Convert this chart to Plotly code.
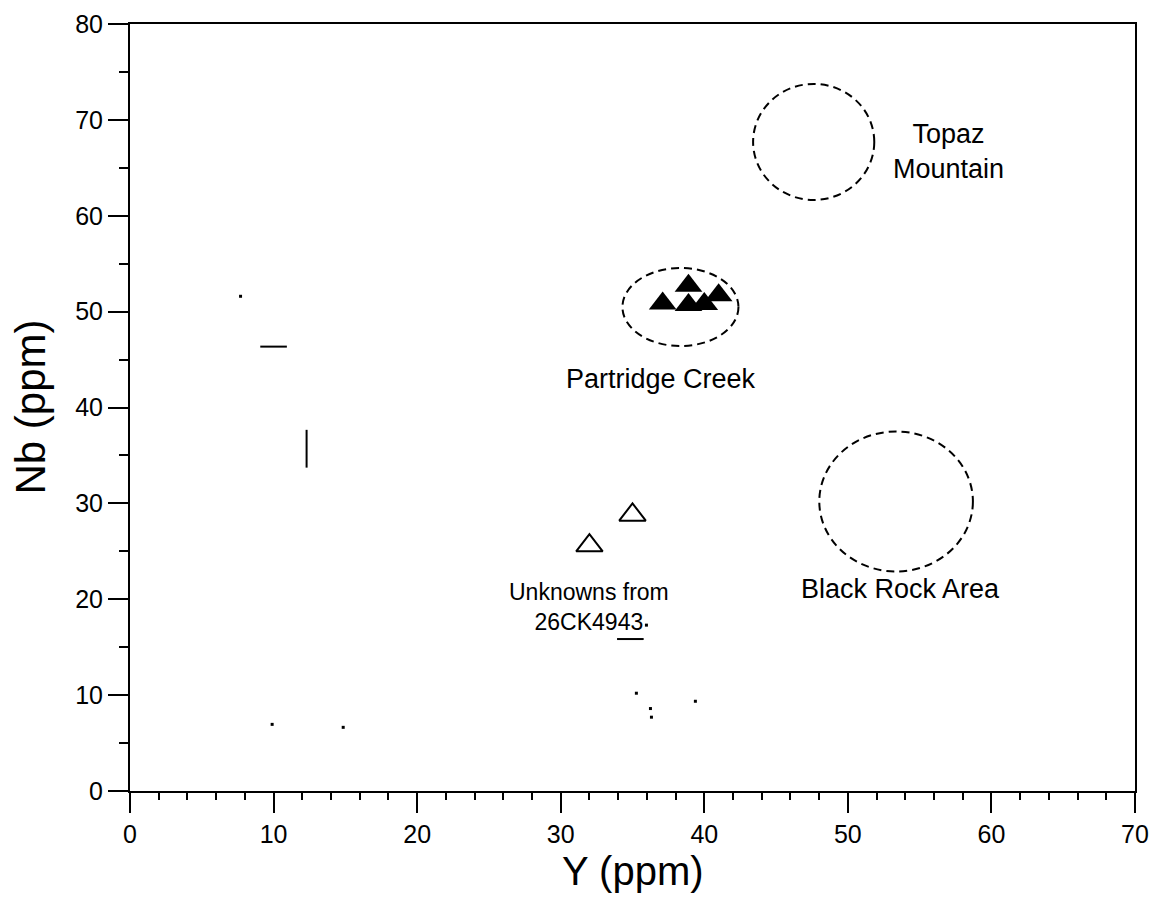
import plotly.graph_objects as go

# ---- data ----
partridge_y = [37.1, 38.9, 41.0, 40.0, 38.9]
partridge_nb = [50.85, 52.7, 51.7, 50.8, 50.7]

unknown_y = [32.0, 35.0]
unknown_nb = [25.6, 28.8]

# source-area fields: centre (Y, Nb) and half-extents
field_names = ["Topaz Mountain", "Partridge Creek", "Black Rock Area"]
field_cy = [47.62, 38.34, 53.36]
field_cnb = [67.7, 50.48, 30.2]
field_ry = [4.22, 4.04, 5.35]
field_rnb = [6.05, 4.07, 7.3]

# stray marks visible on the original figure
stray_h_y = [10.0, 34.85]
stray_h_nb = [46.35, 15.85]
stray_v_y = [12.3]
stray_v_nb = [35.7]
stray_dot_y = [7.7, 35.97, 35.27, 39.38, 36.25, 36.32, 9.9, 14.85]
stray_dot_nb = [51.6, 17.3, 10.2, 9.36, 8.6, 7.7, 6.95, 6.64]

# labels
label_text = ["Topaz<br>Mountain", "Partridge Creek", "Black Rock Area", "Unknowns from<br>26CK4943"]
label_y = [57.0, 37.0, 53.65, 32.0]
label_nb = [66.75, 43.0, 21.07, 19.2]
label_size = [27, 27, 27, 23]

x_title = "Y (ppm)"
y_title = "Nb (ppm)"

FONT = "Liberation Sans, Arial, sans-serif"

fig = go.Figure()

fig.add_trace(go.Scatter(
    x=partridge_y, y=partridge_nb, mode="markers",
    marker=dict(symbol="triangle-up", size=24, color="black", line=dict(width=0)),
    showlegend=False, hoverinfo="skip"))

fig.add_trace(go.Scatter(
    x=unknown_y, y=unknown_nb, mode="markers",
    marker=dict(symbol="triangle-up-open", size=23, color="black", line=dict(width=2, color="black")),
    showlegend=False, hoverinfo="skip"))

fig.add_trace(go.Scatter(
    x=stray_h_y, y=stray_h_nb, mode="markers",
    marker=dict(symbol="line-ew", size=19, line=dict(width=2, color="black")),
    showlegend=False, hoverinfo="skip"))
fig.add_trace(go.Scatter(
    x=stray_v_y, y=stray_v_nb, mode="markers",
    marker=dict(symbol="line-ns", size=27, line=dict(width=2, color="black")),
    showlegend=False, hoverinfo="skip"))
fig.add_trace(go.Scatter(
    x=stray_dot_y, y=stray_dot_nb, mode="markers",
    marker=dict(symbol="square", size=3, color="black", line=dict(width=0)),
    showlegend=False, hoverinfo="skip"))

for cx, cy, rx, ry in zip(field_cy, field_cnb, field_ry, field_rnb):
    fig.add_shape(type="circle", xref="x", yref="y",
                  x0=cx - rx, x1=cx + rx, y0=cy - ry, y1=cy + ry,
                  line=dict(color="black", width=2, dash="8px,5px"))

for t, x, y, s in zip(label_text, label_y, label_nb, label_size):
    fig.add_annotation(x=x, y=y, text=t, showarrow=False, xref="x", yref="y",
                       font=dict(family=FONT, size=s, color="black"))

# axis titles
fig.add_annotation(x=0.5, y=0, xref="paper", yref="paper", text=x_title, showarrow=False,
                   xanchor="center", yanchor="middle", yshift=-80,
                   font=dict(family=FONT, size=40, color="black"))
fig.add_annotation(x=0, y=0.5, xref="paper", yref="paper", text=y_title, showarrow=False,
                   xanchor="center", yanchor="middle", xshift=-100, textangle=-90,
                   font=dict(family=FONT, size=42, color="black"))

axis_common = dict(
    showline=True, linewidth=2, linecolor="black", mirror=True,
    ticks="outside", ticklen=20, tickwidth=2, tickcolor="black",
    showgrid=False, zeroline=False, ticklabeloverflow="allow",
    tickfont=dict(family=FONT, size=25, color="black"),
)

fig.update_xaxes(range=[0, 70], dtick=10, tick0=0,
                 minor=dict(ticks="outside", ticklen=7, tickwidth=2, tickcolor="black", dtick=2),
                 **axis_common)
fig.update_yaxes(range=[0, 80], dtick=10, tick0=0,
                 minor=dict(ticks="outside", ticklen=9, tickwidth=2, tickcolor="black", dtick=5),
                 **axis_common)

fig.update_layout(
    width=1152, height=903,
    margin=dict(l=130, r=17, t=24, b=112, autoexpand=False),
    paper_bgcolor="white", plot_bgcolor="white",
    font=dict(family=FONT, color="black"),
)

fig.write_html("out.html", config={"displayModeBar": False},
               post_script="document.body.style.margin='0';document.body.style.overflow='hidden';")
